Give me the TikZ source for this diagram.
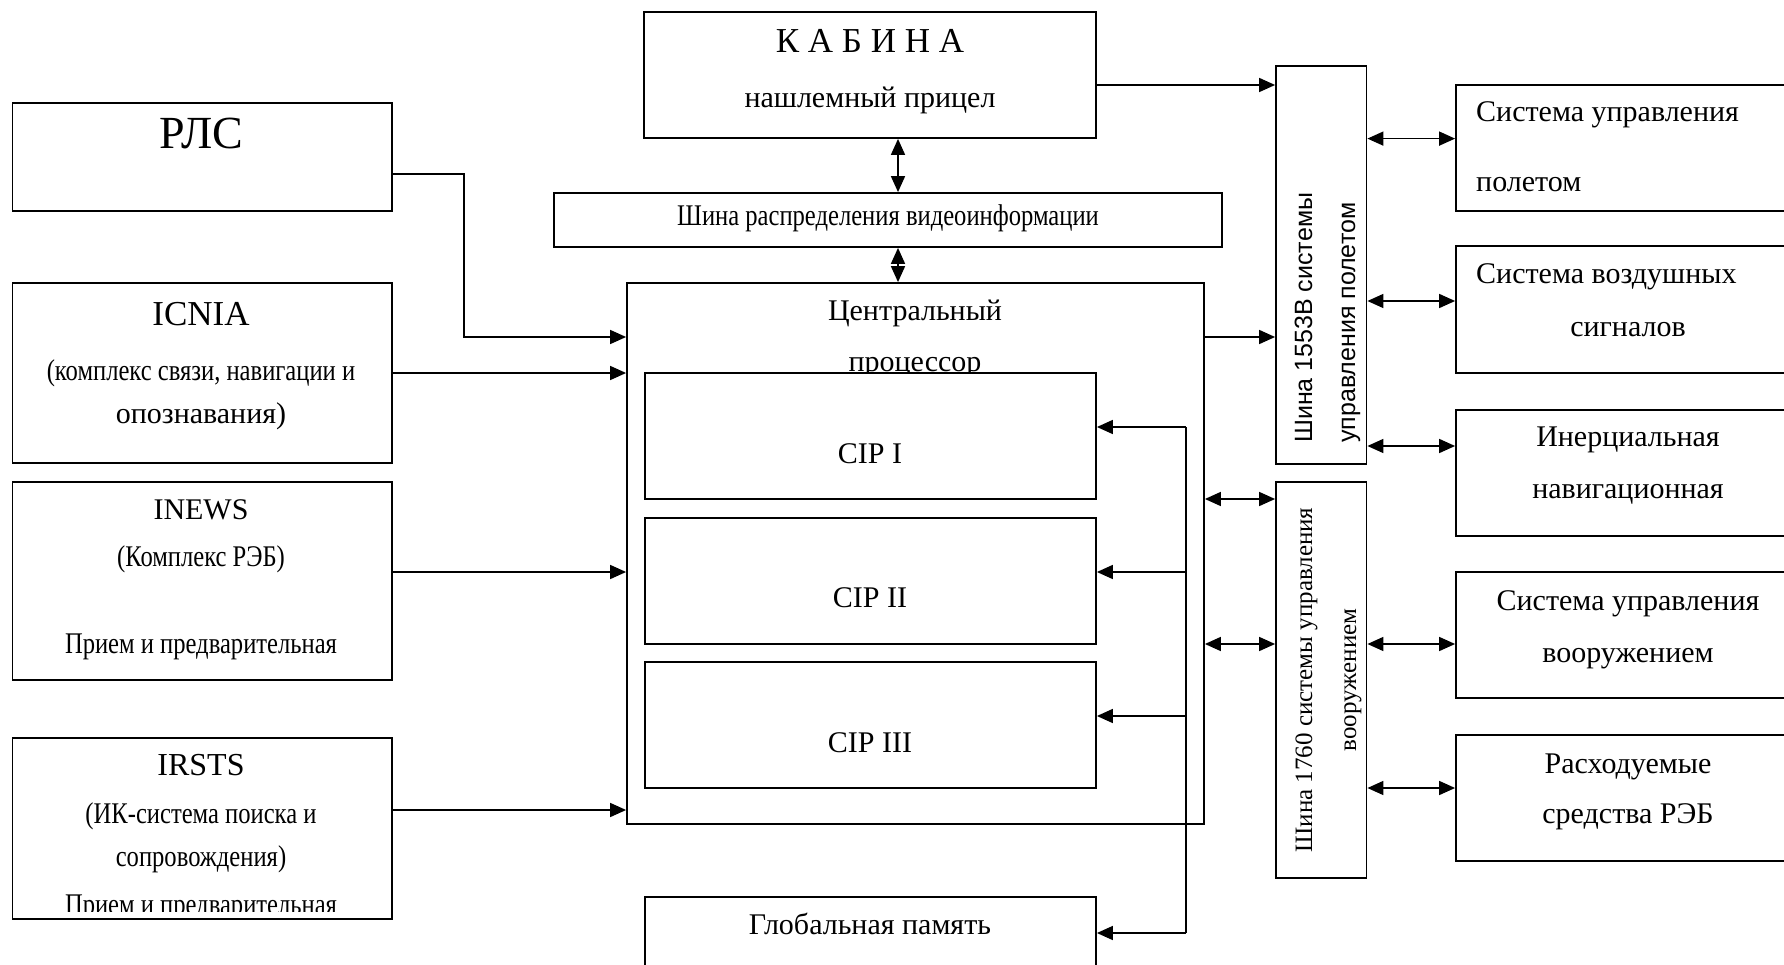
\documentclass[tikz,border=0pt]{standalone}
\usepackage{fontspec}
\setmainfont{Liberation Serif}
\newfontfamily\arialf{Liberation Sans}
\newfontfamily\cond{Liberation Serif}[FakeStretch=0.82]
\usetikzlibrary{arrows.meta}
\newcommand\fsz[1]{\fontsize{#1}{#1}\selectfont}
\newcommand\mkbox[5]{\node[box,minimum width={#4-#2},minimum height={#5-#3}] (#1) at ({(#2+#4)/2},{(#3+#5)/2}) {};}
\begin{document}
\begin{tikzpicture}[x=1pt,y=-1pt,
  box/.style={draw,line width=1.8pt,inner sep=0pt,fill=white},
  txt/.style={inner sep=0pt,anchor=base},
  ltxt/.style={inner sep=0pt,anchor=base west},
  arr/.style={line width=1.6pt,-{Triangle[length=16pt,width=14pt]}},
  darr/.style={line width=1.6pt,{Triangle[length=16pt,width=14pt]}-{Triangle[length=16pt,width=14pt]}},
  plain/.style={line width=1.6pt}]
\useasboundingbox (0,0) rectangle (1784,965);
\clip (0,0) rectangle (1784,965);
\fill[white] (0,0) rectangle (1784,965);
% left column
\mkbox{rls}{12.5}{103}{392}{211}
\mkbox{icnia}{12.5}{283}{392}{463}
\mkbox{inews}{12.5}{482}{392}{680}
\mkbox{irsts}{12.5}{738}{392}{919}
\node[txt] (trls) at (201,149) {\fsz{46}РЛС};
\node[txt] (ticn1) at (201,325) {\fsz{35}ICNIA};
\node[txt] (ticn2) at (201,380) {\cond\fsz{30}(комплекс связи, навигации и};
\node[txt] (ticn3) at (201,423) {\fsz{30}опознавания)};
\node[txt] (tinw1) at (201,519) {\fsz{30}INEWS};
\node[txt] (tinw2) at (201,566) {\cond\fsz{30}(Комплекс РЭБ)};
\node[txt] (tinw3) at (201,653) {\cond\fsz{30}Прием и предварительная};
\node[txt] (tirs1) at (201,775) {\fsz{32}IRSTS};
\node[txt] (tirs2) at (201,823) {\cond\fsz{30}(ИК-система поиска и};
\node[txt] (tirs3) at (201,866) {\cond\fsz{30}сопровождения)};
\begin{scope}
\clip (12.5,738) rectangle (392,911);
\node[txt] (tirs4) at (201,914) {\cond\fsz{30}Прием и предварительная};
\end{scope}
% centre column
\mkbox{kab}{644}{12}{1096}{138}
\node[txt] (tkab1) at (870,53) {\fsz{35}К А Б И Н А};
\node[txt] (tkab2) at (870,108) {\fsz{30}нашлемный прицел};
\mkbox{vbus}{554}{193}{1222}{247}
\node[txt] (tvbus) at (888,226) {\cond\fsz{30}Шина распределения видеоинформации};
\mkbox{cp}{627}{283}{1204}{824}
\node[txt] (tcp1) at (915,320) {\fsz{30}Центральный};
\node[txt] (tcp2) at (915,371) {\fsz{30}процессор};
\mkbox{cip1}{645}{373}{1096}{499}
\mkbox{cip2}{645}{518}{1096}{644}
\mkbox{cip3}{645}{662}{1096}{788}
\node[txt] (tcip1) at (870,463) {\fsz{30}CIP I};
\node[txt] (tcip2) at (870,607) {\fsz{30}CIP II};
\node[txt] (tcip3) at (870,752) {\fsz{30}CIP III};
\mkbox{gmem}{645}{897}{1096}{985}
\node[txt] (tgmem) at (870,934) {\fsz{30}Глобальная память};
% buses
\mkbox{b1553}{1276}{66}{1366.5}{464}
\node[ltxt,rotate=90] (tb1a) at (1312,443) {\arialf\fsz{25}Шина 1553В системы};
\node[ltxt,rotate=90] (tb1b) at (1355,443) {\arialf\fsz{25}управления полетом};
\mkbox{b1760}{1276}{482}{1366.5}{878}
\node[txt,rotate=90] (tb2a) at (1312,680) {\fsz{25}Шина 1760 системы управления};
\node[txt,rotate=90] (tb2b) at (1356,680) {\fsz{25}вооружением};
% right column
\mkbox{sfc}{1456}{85}{1800}{211}
\mkbox{sad}{1456}{246}{1800}{373}
\mkbox{ins}{1456}{410}{1800}{536}
\mkbox{swc}{1456}{572}{1800}{698}
\mkbox{ew}{1456}{735}{1800}{861}
\node[ltxt] (tsfc1) at (1476,122) {\fsz{30}Система управления};
\node[ltxt] (tsfc2) at (1476,192) {\fsz{30}полетом};
\node[ltxt] (tsad1) at (1476,284) {\fsz{30}Система воздушных};
\node[txt] (tsad2) at (1628,337) {\fsz{30}сигналов};
\node[txt] (tins1) at (1628,446) {\fsz{30}Инерциальная};
\node[txt] (tins2) at (1628,498) {\fsz{30}навигационная};
\node[txt] (tswc1) at (1628,610) {\fsz{30}Система управления};
\node[txt] (tswc2) at (1628,662) {\fsz{30}вооружением};
\node[txt] (tew1) at (1628,773) {\fsz{30}Расходуемые};
\node[txt] (tew2) at (1628,823) {\fsz{30}средства РЭБ};
% routing coordinates
\coordinate (r1) at (464,174);
\coordinate (r2) at (464,337);
\coordinate (yicn) at (0,373);
\coordinate (yinw) at (0,572);
\coordinate (yirs) at (0,810);
\coordinate (xv) at (898,0);
\coordinate (ykab) at (0,85);
\coordinate (ycpb) at (0,337);
\coordinate (yw1) at (0,499);
\coordinate (yw2) at (0,644);
\coordinate (yf1) at (0,138.6);
\coordinate (yf2) at (0,301);
\coordinate (yf3) at (0,446);
\coordinate (yf4) at (0,644);
\coordinate (yf5) at (0,788);
\coordinate (fb1) at (1186,427);
\coordinate (fb2) at (1186,572);
\coordinate (fb3) at (1186,716);
\coordinate (fb4) at (1186,933);
% connectors
\draw[arr] (rls.east|-r1) -- (r1) -- (r2) -- (cp.west|-r2);
\draw[arr] (icnia.east|-yicn) -- (cp.west|-yicn);
\draw[arr] (inews.east|-yinw) -- (cp.west|-yinw);
\draw[arr] (irsts.east|-yirs) -- (cp.west|-yirs);
\draw[darr] (kab.south-|xv) -- (vbus.north-|xv);
\draw[darr] (vbus.south-|xv) -- (cp.north-|xv);
\draw[arr] (kab.east|-ykab) -- (b1553.west|-ykab);
\draw[arr] (cp.east|-ycpb) -- (b1553.west|-ycpb);
\draw[darr] (cp.east|-yw1) -- (b1760.west|-yw1);
\draw[darr] (cp.east|-yw2) -- (b1760.west|-yw2);
\draw[darr] (b1553.east|-yf1) -- (sfc.west|-yf1);
\draw[darr] (b1553.east|-yf2) -- (sad.west|-yf2);
\draw[darr] (b1553.east|-yf3) -- (ins.west|-yf3);
\draw[darr] (b1760.east|-yf4) -- (swc.west|-yf4);
\draw[darr] (b1760.east|-yf5) -- (ew.west|-yf5);
\draw[plain] (fb1) -- (fb4);
\draw[arr] (fb1) -- (cip1.east|-fb1);
\draw[arr] (fb2) -- (cip2.east|-fb2);
\draw[arr] (fb3) -- (cip3.east|-fb3);
\draw[arr] (fb4) -- (gmem.east|-fb4);
\end{tikzpicture}
\end{document}
